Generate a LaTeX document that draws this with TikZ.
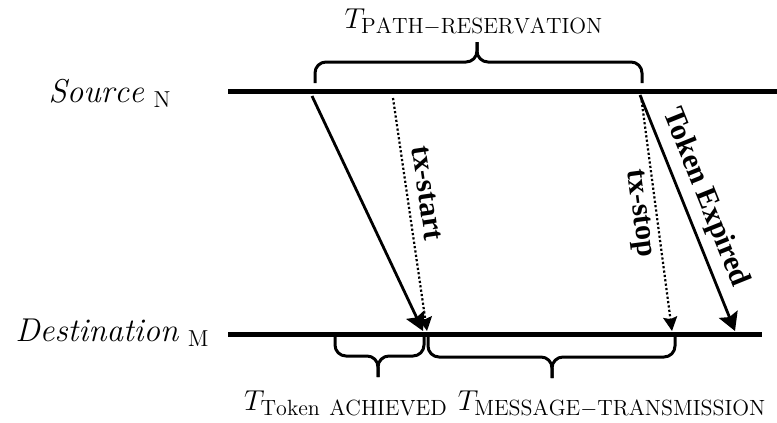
\documentclass[tikz,border=0pt]{standalone}
\usepackage{fontspec}
\newfontfamily\timesfont{Liberation Serif}
\usetikzlibrary{arrows.meta,positioning}
\DeclareMathSizes{14.4}{14.4}{11}{8}

\begin{document}
\begin{tikzpicture}[
    x=0.5pt, y=-0.5pt,
    font=\Large,
    timeline/.style={line width=2.5pt},
    msg/.style={line width=1.4pt, -{Stealth[length=9pt, width=10pt, inset=1.5pt]}},
    ctrl/.style={line width=1.1pt, dash pattern=on 1.1pt off 1.1pt,
      -{Stealth[length=7pt, width=7pt, inset=1pt]}},
    brace/.style={line width=1.5pt, rounded corners=5.5pt},
    tag/.style={font=\fontsize{15}{17}\selectfont\timesfont\bfseries, inner sep=1pt, sloped},
    endlbl/.style={font=\fontsize{16.5}{20}\selectfont, inner sep=0pt, anchor=base east},
    span/.style={inner sep=0pt, anchor=base}
  ]
    \useasboundingbox (0,0) rectangle (777,423);

    % time lines of the two ends
    \coordinate (srcL) at (228,91);
    \coordinate (srcR) at (777,91);
    \coordinate (dstL) at (228,334);
    \coordinate (dstR) at (762,334);
    \draw[timeline] (srcL) -- (srcR);
    \draw[timeline] (dstL) -- (dstR);
    \node[endlbl] (source) at (172,102) {$\mathit{Source}\;{}_{\mathrm{N}}$};
    \node[endlbl] (dest) at (210,341) {$\mathit{Destination}\;{}_{\mathrm{M}}$};

    % messages
    \coordinate (tokS) at (312,96);
    \coordinate (tokD) at (423,331);
    \coordinate (startS) at (393,98);
    \coordinate (startD) at (427,331);
    \coordinate (stopS) at (641,96);
    \coordinate (stopD) at (672,331);
    \coordinate (expS) at (640,95);
    \coordinate (expD) at (735,331);

    \draw[msg] (tokS) -- (tokD);
    \draw[ctrl] (startS) -- node[tag, above=4pt, pos=0.42] (txstart) {tx-start} (startD);
    \draw[ctrl] (stopS) -- node[tag, below=1.5pt, pos=0.49] (txstop) {tx-stop} (stopD);
    \draw[msg] (expS) -- node[tag, above=2.5pt, pos=0.47] (expired) {Token Expired} (expD);

    % braces
    \draw[brace] (315,83) |- (477,62) -- (477,42);
    \draw[brace] (642,83) |- (477,62) -- (477,42);
    \draw[brace] (335,337) |- (378,356) -- (378,377);
    \draw[brace] (424,337) |- (378,356) -- (378,377);
    \draw[brace] (428,337) |- (552,357) -- (552,378);
    \draw[brace] (675,337) |- (552,357) -- (552,378);

    \node[span] (tPath) at (474,28) {$T_{\mathrm{PATH{-}RESERVATION}}$};
    \node[span] (tToken) at (346,410) {$T_{\mathrm{Token\ ACHIEVED}}$};
    \node[span] (tMsg) at (612,410) {$T_{\mathrm{MESSAGE{-}TRANSMISSION}}$};
  \end{tikzpicture}
\end{document}
